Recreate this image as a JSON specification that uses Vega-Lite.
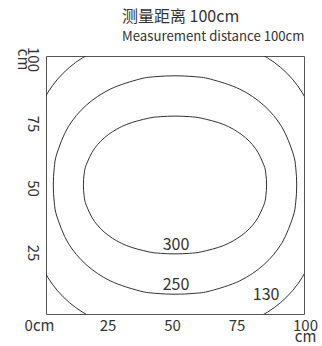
{
  "$schema": "https://vega.github.io/schema/vega-lite/v6.json",
  "width": 258,
  "height": 258,
  "autosize": {"type": "none"},
  "padding": {"left": 46, "top": 56, "right": 18, "bottom": 32},
  "background": "white",
  "config": {
    "view": {"stroke": "#555", "strokeWidth": 1},
    "font": "Noto Sans CJK SC"
  },
  "title": {
    "text": "测量距离 100cm",
    "subtitle": "Measurement distance 100cm",
    "anchor": "start",
    "frame": "group",
    "dx": 76,
    "offset": 3,
    "fontSize": 16,
    "fontWeight": "normal",
    "font": "Noto Sans CJK SC",
    "color": "#333",
    "subtitleFont": "Noto Sans CJK SC",
    "subtitleFontSize": 13.2,
    "subtitleColor": "#333",
    "subtitlePadding": 6
  },
  "datasets": {
    "contours": [
      {"c":300,"i":0,"x":85.5,"y":50},{"c":300,"i":1,"x":85.22,"y":54.19},{"c":300,"i":2,"x":84.4,"y":57.82},{"c":300,"i":3,"x":81.15,"y":64.22},
      {"c":300,"i":4,"x":75.9,"y":69.48},{"c":300,"i":5,"x":68.91,"y":73.43},{"c":300,"i":6,"x":60.4,"y":75.87},{"c":300,"i":7,"x":55.58,"y":76.49},
      {"c":300,"i":8,"x":50,"y":76.7},{"c":300,"i":9,"x":44.42,"y":76.49},{"c":300,"i":10,"x":39.6,"y":75.87},{"c":300,"i":11,"x":31.09,"y":73.43},
      {"c":300,"i":12,"x":24.1,"y":69.48},{"c":300,"i":13,"x":18.85,"y":64.22},{"c":300,"i":14,"x":15.6,"y":57.82},{"c":300,"i":15,"x":14.78,"y":54.19},
      {"c":300,"i":16,"x":14.5,"y":50},{"c":300,"i":17,"x":14.78,"y":45.81},{"c":300,"i":18,"x":15.6,"y":42.18},{"c":300,"i":19,"x":18.85,"y":35.78},
      {"c":300,"i":20,"x":24.1,"y":30.52},{"c":300,"i":21,"x":31.09,"y":26.57},{"c":300,"i":22,"x":39.6,"y":24.13},{"c":300,"i":23,"x":44.42,"y":23.51},
      {"c":300,"i":24,"x":50,"y":23.3},{"c":300,"i":25,"x":55.58,"y":23.51},{"c":300,"i":26,"x":60.4,"y":24.13},{"c":300,"i":27,"x":68.91,"y":26.57},
      {"c":300,"i":28,"x":75.9,"y":30.52},{"c":300,"i":29,"x":81.15,"y":35.78},{"c":300,"i":30,"x":84.4,"y":42.18},{"c":300,"i":31,"x":85.22,"y":45.81},
      {"c":250,"i":0,"x":97.17,"y":50},{"c":250,"i":1,"x":96.8,"y":56.65},{"c":250,"i":2,"x":95.71,"y":62.4},{"c":250,"i":3,"x":91.39,"y":72.54},
      {"c":250,"i":4,"x":84.42,"y":80.89},{"c":250,"i":5,"x":75.12,"y":87.14},{"c":250,"i":6,"x":63.82,"y":91.02},{"c":250,"i":7,"x":57.41,"y":92.0},
      {"c":250,"i":8,"x":50,"y":92.33},{"c":250,"i":9,"x":42.59,"y":92.0},{"c":250,"i":10,"x":36.18,"y":91.02},{"c":250,"i":11,"x":24.88,"y":87.14},
      {"c":250,"i":12,"x":15.58,"y":80.89},{"c":250,"i":13,"x":8.61,"y":72.54},{"c":250,"i":14,"x":4.29,"y":62.4},{"c":250,"i":15,"x":3.2,"y":56.65},
      {"c":250,"i":16,"x":2.83,"y":50},{"c":250,"i":17,"x":3.2,"y":43.35},{"c":250,"i":18,"x":4.29,"y":37.6},{"c":250,"i":19,"x":8.61,"y":27.46},
      {"c":250,"i":20,"x":15.58,"y":19.11},{"c":250,"i":21,"x":24.88,"y":12.86},{"c":250,"i":22,"x":36.18,"y":8.98},{"c":250,"i":23,"x":42.59,"y":8.0},
      {"c":250,"i":24,"x":50,"y":7.67},{"c":250,"i":25,"x":57.41,"y":8.0},{"c":250,"i":26,"x":63.82,"y":8.98},{"c":250,"i":27,"x":75.12,"y":12.86},
      {"c":250,"i":28,"x":84.42,"y":19.11},{"c":250,"i":29,"x":91.39,"y":27.46},{"c":250,"i":30,"x":95.71,"y":37.6},{"c":250,"i":31,"x":96.8,"y":43.35},
      {"c":130,"i":0,"x":107.2,"y":50},{"c":130,"i":1,"x":106.81,"y":61.22},{"c":130,"i":2,"x":105.64,"y":69.41},{"c":130,"i":3,"x":100.98,"y":82.85},
      {"c":130,"i":4,"x":93.35,"y":93.35},{"c":130,"i":5,"x":82.85,"y":100.98},{"c":130,"i":6,"x":69.41,"y":105.64},{"c":130,"i":7,"x":61.22,"y":106.81},
      {"c":130,"i":8,"x":50,"y":107.2},{"c":130,"i":9,"x":38.78,"y":106.81},{"c":130,"i":10,"x":30.59,"y":105.64},{"c":130,"i":11,"x":17.15,"y":100.98},
      {"c":130,"i":12,"x":6.65,"y":93.35},{"c":130,"i":13,"x":-0.98,"y":82.85},{"c":130,"i":14,"x":-5.64,"y":69.41},{"c":130,"i":15,"x":-6.81,"y":61.22},
      {"c":130,"i":16,"x":-7.2,"y":50},{"c":130,"i":17,"x":-6.81,"y":38.78},{"c":130,"i":18,"x":-5.64,"y":30.59},{"c":130,"i":19,"x":-0.98,"y":17.15},
      {"c":130,"i":20,"x":6.65,"y":6.65},{"c":130,"i":21,"x":17.15,"y":-0.98},{"c":130,"i":22,"x":30.59,"y":-5.64},{"c":130,"i":23,"x":38.78,"y":-6.81},
      {"c":130,"i":24,"x":50,"y":-7.2},{"c":130,"i":25,"x":61.22,"y":-6.81},{"c":130,"i":26,"x":69.41,"y":-5.64},{"c":130,"i":27,"x":82.85,"y":-0.98},
      {"c":130,"i":28,"x":93.35,"y":6.65},{"c":130,"i":29,"x":100.98,"y":17.15},{"c":130,"i":30,"x":105.64,"y":30.59},{"c":130,"i":31,"x":106.81,"y":38.78}
    ],
    "labels": [
      {"label":"300","x":50.4,"y":24.8},
      {"label":"250","x":50.4,"y":9.3},
      {"label":"130","x":85.3,"y":5.4}
    ]
  },
  "encoding": {
    "x": {
      "field": "x", "type": "quantitative",
      "scale": {"domain": [0, 100], "nice": false, "zero": false},
      "axis": {
        "title": null, "values": [0, 25, 50, 75, 100],
        "labelExpr": "datum.value == 0 ? '0cm' : datum.value == 100 ? ['100','cm'] : datum.label",
        "domain": false, "ticks": false, "grid": false,
        "labelFont": "Noto Sans CJK SC", "labelFontSize": 15, "labelColor": "#333",
        "labelLineHeight": 11, "labelPadding": 4, "labelFlush": false, "labelOverlap": false,
        "labelBaseline": "top",
        "labelOffset": {"condition": [{"test": "datum.value == 0", "value": -7}, {"test": "datum.value == 100", "value": 1}], "value": -3}
      }
    },
    "y": {
      "field": "y", "type": "quantitative",
      "scale": {"domain": [0, 100], "nice": false, "zero": false},
      "axis": {
        "title": null, "values": [25, 50, 75, 100],
        "labelExpr": "datum.value == 100 ? ['100','cm'] : datum.label",
        "domain": false, "ticks": false, "grid": false,
        "labelFont": "Noto Sans CJK SC", "labelFontSize": 15, "labelColor": "#333",
        "labelLineHeight": 10, "labelPadding": 7, "labelFlush": false, "labelOverlap": false,
        "labelAngle": 90, "labelAlign": "center", "labelBaseline": "top",
        "labelOffset": 3
      }
    }
  },
  "layer": [
    {
      "data": {"name": "contours"},
      "mark": {"type": "line", "interpolate": "cardinal-closed", "clip": true, "color": "#333", "strokeWidth": 1},
      "encoding": {
        "detail": {"field": "c", "type": "nominal"},
        "order": {"field": "i", "type": "quantitative"}
      }
    },
    {
      "data": {"name": "labels"},
      "mark": {"type": "text", "font": "Noto Sans CJK SC", "fontSize": 16, "color": "#333", "align": "center", "baseline": "alphabetic"},
      "encoding": {
        "text": {"field": "label", "type": "nominal"}
      }
    }
  ]
}
